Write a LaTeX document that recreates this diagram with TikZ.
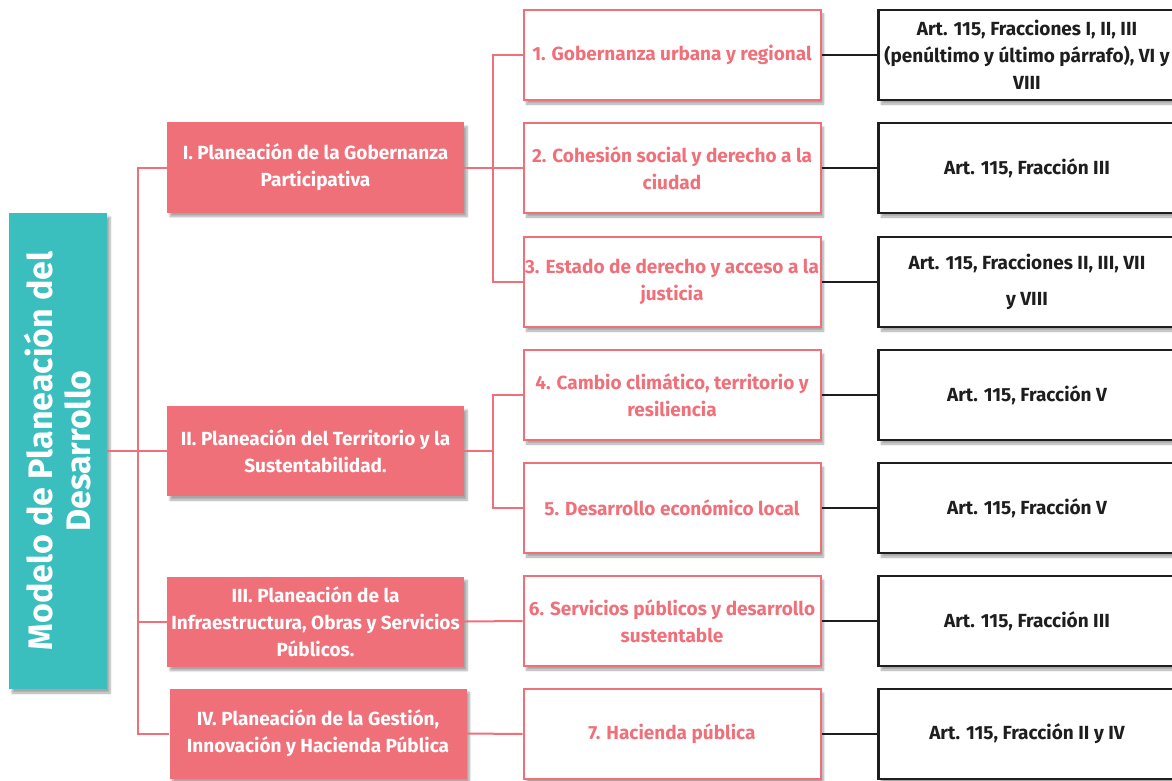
\documentclass[tikz,border=0pt]{standalone}
\usepackage{fontspec}
\setmainfont{Fira Sans}
\usetikzlibrary{shadows.blur}
\definecolor{salmon}{RGB}{240,112,122}
\definecolor{tealbox}{RGB}{58,190,190}
\definecolor{ink}{RGB}{30,30,30}
\begin{document}
\begin{tikzpicture}[x=1pt,y=-1pt,
  shad/.style={blur shadow={shadow xshift=3pt,shadow yshift=-4pt,shadow opacity=35,shadow blur steps=6}},
  basebox/.style={rectangle,minimum width=297pt,minimum height=90pt,inner sep=0pt,align=center,
    font=\bfseries\fontsize{19}{27}\selectfont,shad},
  lvone/.style={basebox,fill=salmon,text=white},
  lvtwo/.style={basebox,fill=white,draw=salmon,line width=2pt,text=salmon},
  lvthree/.style={basebox,fill=white,draw=ink,line width=2.2pt,text=ink},
  rootbox/.style={rectangle,fill=tealbox,minimum width=98pt,minimum height=476pt,inner sep=0pt,shad},
  pinkline/.style={draw=salmon,line width=2pt},
  blackline/.style={draw=ink,line width=2.2pt}]
\useasboundingbox (0,0) rectangle (1172,781);
\clip (0,0) rectangle (1172,781);

% root
\node[rootbox] (root) at (58,451) {};
\node[rotate=90,text=white,align=center,font=\bfseries\fontsize{34}{38}\selectfont] (roottext) at (root.center) {Modelo de Planeación del\\Desarrollo};

% level 1
\node[lvone] (p1) at (315.5,167.5) {I. Planeación de la Gobernanza\\Participativa};
\node[lvone] (p2) at (315.5,451) {II. Planeación del Territorio y la\\Sustentabilidad.};
\node[lvone] (p3) at (315.5,621.5) {III. Planeación de la\\Infraestructura, Obras y Servicios\\Públicos.};
\node[lvone] (p4) at (318,733.5) {IV. Planeación de la Gestión,\\Innovación y Hacienda Pública};

% level 2
\node[lvtwo] (c1) at (672,55) {1. Gobernanza urbana y regional};
\node[lvtwo] (c2) at (672,168) {2. Cohesión social y derecho a la\\ciudad};
\node[lvtwo] (c3) at (672,282) {3. Estado de derecho y acceso a la\\justicia};
\node[lvtwo] (c4) at (672,395) {4. Cambio climático, territorio y\\resiliencia};
\node[lvtwo] (c5) at (672,508) {5. Desarrollo económico local};
\node[lvtwo] (c6) at (672,621) {6. Servicios públicos y desarrollo\\sustentable};
\node[lvtwo] (c7) at (672,734) {7. Hacienda pública};

% level 3
\node[lvthree] (r1) at (1027,55) {Art. 115, Fracciones I, II, III\\(penúltimo y último párrafo), VI y\\VIII};
\node[lvthree] (r2) at (1027,168) {Art. 115, Fracción III};
\node[lvthree] (r3) at (1027,282) {Art. 115, Fracciones II, III, VII\\[9pt]y VIII};
\node[lvthree] (r4) at (1027,395) {Art. 115, Fracción V};
\node[lvthree] (r5) at (1027,508) {Art. 115, Fracción V};
\node[lvthree] (r6) at (1027,621) {Art. 115, Fracción III};
\node[lvthree] (r7) at (1027,734) {Art. 115, Fracción II y IV};

% connectors root -> level 1
\coordinate (rb) at (137.5,451);
\draw[pinkline] (root.east) -- (rb);
\draw[pinkline] (p1.west) -- (p1.west -| rb) -- (p4.west -| rb) -- (p4.west);
\draw[pinkline] (p2.west) -- (p2.west -| rb);
\draw[pinkline] (p3.west) -- (p3.west -| rb);

% level 1 -> level 2
\coordinate (j1) at (493,167.5);
\draw[pinkline] (p1.east) -- (j1);
\draw[pinkline] (c1.west) -- (c1.west -| j1) -- (c3.west -| j1) -- (c3.west);
\draw[pinkline] (c2.west) -- (c2.west -| j1);
\coordinate (j2) at (493,451);
\draw[pinkline] (p2.east) -- (j2);
\draw[pinkline] (c4.west) -- (c4.west -| j2) -- (c5.west -| j2) -- (c5.west);
\draw[pinkline] (p3.east) -- (c6.west);
\draw[pinkline] (p4.east) -- (c7.west);

% level 2 -> level 3
\foreach \i in {1,...,7} {\draw[blackline] (c\i.east) -- (r\i.west);}
\end{tikzpicture}
\end{document}
